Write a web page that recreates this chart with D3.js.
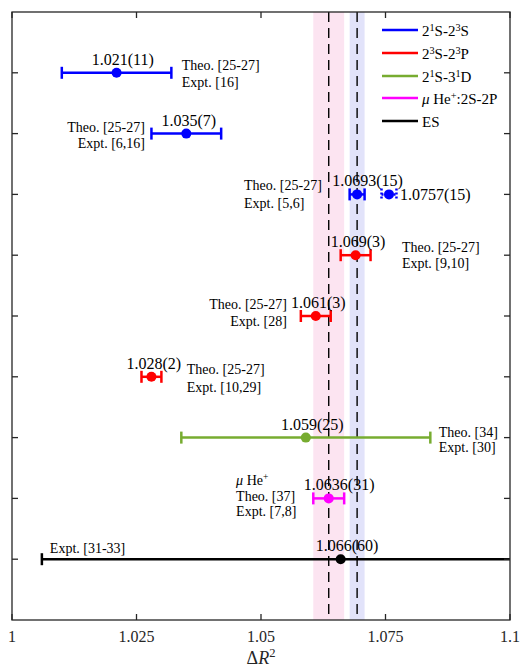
<!DOCTYPE html>
<html>
<head>
<meta charset="utf-8">
<script src="https://cdn.jsdelivr.net/npm/d3@7"></script>
<style>
  body { margin: 0; background: #fff; }
</style>
</head>
<body>
<div id="chart"></div>
<script>
// measurements, one per row (top to bottom)
var rowIds = [1, 2, 3, 4, 5, 6, 7, 8, 9];
var values = [1.021, 1.035, 1.0693, 1.069, 1.061, 1.028, 1.059, 1.0636, 1.066];
var errs = [0.011, 0.007, 0.0015, 0.003, 0.003, 0.002, 0.025, 0.0031, 0.060];
var groups = [0, 0, 0, 1, 1, 1, 2, 3, 4];
var valueText = ["1.021(11)", "1.035(7)", "1.0693(15)", "1.069(3)", "1.061(3)",
  "1.028(2)", "1.059(25)", "1.0636(31)", "1.066(60)"];

// extra (dotted) point in row 3
var extraValue = 1.0757, extraErr = 0.0015, extraText = "1.0757(15)";

var notes = [
  ["Theo. [25-27]", "Expt. [16]"],
  ["Theo. [25-27]", "Expt. [6,16]"],
  ["Theo. [25-27]", "Expt. [5,6]"],
  ["Theo. [25-27]", "Expt. [9,10]"],
  ["Theo. [25-27]", "Expt. [28]"],
  ["Theo. [25-27]", "Expt. [10,29]"],
  ["Theo. [34]", "Expt. [30]"],
  ["\u03bc He^+", "Theo. [37]", "Expt. [7,8]"],
  ["Expt. [31-33]"]
];

var legendLabels = ["2^1S-2^3S", "2^3S-2^3P", "2^1S-3^1D", "\u03bc He^+:2S-2P", "ES"];
var colors = ["#0000ff", "#ff0000", "#77ac30", "#ff00ff", "#000000"];

var xTicks = [1, 1.025, 1.05, 1.075, 1.1];
var xTickLabels = ["1", "1.025", "1.05", "1.075", "1.1"];

// shaded bands: muonic He and 2^1S-2^3S
var bandCenters = [1.0636, 1.0693];
var bandErrs = [0.0031, 0.0015];
var bandColors = ["#fce4f1", "#e2e3fa"];

(function() {
  var W = 525, H = 668;
  var m = {left: 12, top: 12, right: 15, bottom: 48};
  var w = W - m.left - m.right, h = H - m.top - m.bottom;
  var FONT = "'Liberation Serif', 'Times New Roman', 'DejaVu Serif', serif";

  var svg = d3.select("#chart").append("svg")
    .attr("width", W).attr("height", H)
    .attr("font-family", FONT)
    .attr("font-weight", "normal");

  var x = d3.scaleLinear().domain([1, 1.1]).range([m.left, m.left + w]);
  var y = d3.scaleLinear().domain([0, 10]).range([m.top, m.top + h]);

  var defs = svg.append("defs");
  defs.append("clipPath").attr("id", "plot")
    .append("rect").attr("x", m.left).attr("y", m.top).attr("width", w).attr("height", h);

  var g = svg.append("g").attr("clip-path", "url(#plot)");

  // bands
  g.selectAll(".band").data(bandCenters).enter().append("rect")
    .attr("x", function(d, i) { return x(d - bandErrs[i]); })
    .attr("width", function(d, i) { return x(d + bandErrs[i]) - x(d - bandErrs[i]); })
    .attr("y", m.top).attr("height", h)
    .attr("fill", function(d, i) { return bandColors[i]; });

  // dashed center lines
  g.selectAll(".dash").data(bandCenters).enter().append("line")
    .attr("x1", function(d) { return x(d); }).attr("x2", function(d) { return x(d); })
    .attr("y1", m.top).attr("y2", m.top + h)
    .attr("stroke", "#000").attr("stroke-width", 1.4)
    .attr("stroke-dasharray", "10,6");

  function errbar(sel, v, e, row, color, dashed) {
    var cy = y(row), cap = 6;
    var gg = sel.append("g").attr("stroke", color).attr("stroke-width", 2.5);
    if (dashed) gg.attr("stroke-dasharray", "2,2");
    gg.append("line").attr("x1", x(v - e)).attr("x2", x(v + e)).attr("y1", cy).attr("y2", cy);
    [v - e, v + e].forEach(function(xx) {
      gg.append("line").attr("x1", x(xx)).attr("x2", x(xx))
        .attr("y1", cy - cap).attr("y2", cy + cap);
    });
    sel.append("circle").attr("cx", x(v)).attr("cy", cy).attr("r", 5)
      .attr("fill", color);
  }

  rowIds.forEach(function(r, i) {
    errbar(g, values[i], errs[i], r, colors[groups[i]], false);
  });
  errbar(g, extraValue, extraErr, 3, colors[0], true);

  // value labels, left-aligned at value - 0.005
  svg.selectAll(".val").data(values).enter().append("text")
    .attr("class", "val")
    .attr("x", function(d) { return x(d - 0.005); })
    .attr("y", function(d, i) { return y(rowIds[i]) - 8; })
    .attr("font-size", 16)
    .text(function(d, i) { return valueText[i]; });

  svg.append("text")
    .attr("x", x(extraValue) + 11).attr("y", y(3) + 5.5)
    .attr("font-size", 16).text(extraText);

  // rich text: ^c -> superscript, mu -> italic
  function rich(t, s) {
    var parts = s.split(/(\^.|\u03bc)/);
    parts.forEach(function(p) {
      if (!p) return;
      if (p[0] === "^") {
        t.append("tspan").attr("baseline-shift", "super")
          .attr("font-size", "0.68em").text(p[1]);
      } else if (p === "\u03bc") {
        t.append("tspan").attr("font-style", "italic").text(p);
      } else {
        t.append("tspan").text(p);
      }
    });
  }

  // annotation placement (x in data units, first baseline offset from row)
  var noteX = [1.0341, 1.0267, 1.0466, 1.0783, 1.0552, 1.0351, 1.0857, 1.045, 1.0076];
  var noteAnchor = ["start", "end", "start", "start", "end", "start", "start", "start", "start"];
  var noteDy = [-3, -2, -4, -3, -7, -3, -1, -13, -6];
  var noteGap = [17, 16, 18, 16, 17, 18, 15, 15.5, 17];

  notes.forEach(function(lines, i) {
    lines.forEach(function(line, j) {
      var t = svg.append("text")
        .attr("x", x(noteX[i]))
        .attr("y", y(rowIds[i]) + noteDy[i] + j * noteGap[i])
        .attr("font-size", 14)
        .attr("text-anchor", noteAnchor[i]);
      rich(t, line);
    });
  });

  // axes box
  var axisColor = "#262626";
  var tickLen = 6;
  var ax = svg.append("g").attr("stroke", axisColor).attr("stroke-width", 1.3);
  ax.append("rect").attr("x", m.left).attr("y", m.top).attr("width", w).attr("height", h)
    .attr("fill", "none");

  xTicks.forEach(function(t) {
    ax.append("line").attr("x1", x(t)).attr("x2", x(t))
      .attr("y1", m.top + h).attr("y2", m.top + h - tickLen);
    ax.append("line").attr("x1", x(t)).attr("x2", x(t))
      .attr("y1", m.top).attr("y2", m.top + tickLen);
  });
  rowIds.forEach(function(r) {
    ax.append("line").attr("x1", m.left).attr("x2", m.left + tickLen)
      .attr("y1", y(r)).attr("y2", y(r));
    ax.append("line").attr("x1", m.left + w).attr("x2", m.left + w - tickLen)
      .attr("y1", y(r)).attr("y2", y(r));
  });

  svg.selectAll(".xtl").data(xTicks).enter().append("text")
    .attr("x", function(d) { return x(d); })
    .attr("y", m.top + h + 22)
    .attr("text-anchor", "middle")
    .attr("font-size", 16)
    .attr("fill", "#262626")
    .text(function(d, i) { return xTickLabels[i]; });

  var xl = svg.append("text")
    .attr("x", x(1.05)).attr("y", H - 4)
    .attr("text-anchor", "middle")
    .attr("font-size", 18).attr("fill", "#262626");
  xl.append("tspan").text("\u0394");
  xl.append("tspan").attr("font-style", "italic").text("R");
  xl.append("tspan").attr("baseline-shift", "super").attr("font-size", "0.7em").text("2");

  // legend
  var lg = svg.append("g");
  var legY = [30, 53, 76, 98, 121];
  legendLabels.forEach(function(lab, i) {
    lg.append("line").attr("x1", 382).attr("x2", 418)
      .attr("y1", legY[i]).attr("y2", legY[i])
      .attr("stroke", colors[i]).attr("stroke-width", 2.5);
    var t = lg.append("text").attr("x", 422).attr("y", legY[i] + 5.5)
      .attr("font-size", 15);
    rich(t, lab);
  });
})();
</script>
</body>
</html>
